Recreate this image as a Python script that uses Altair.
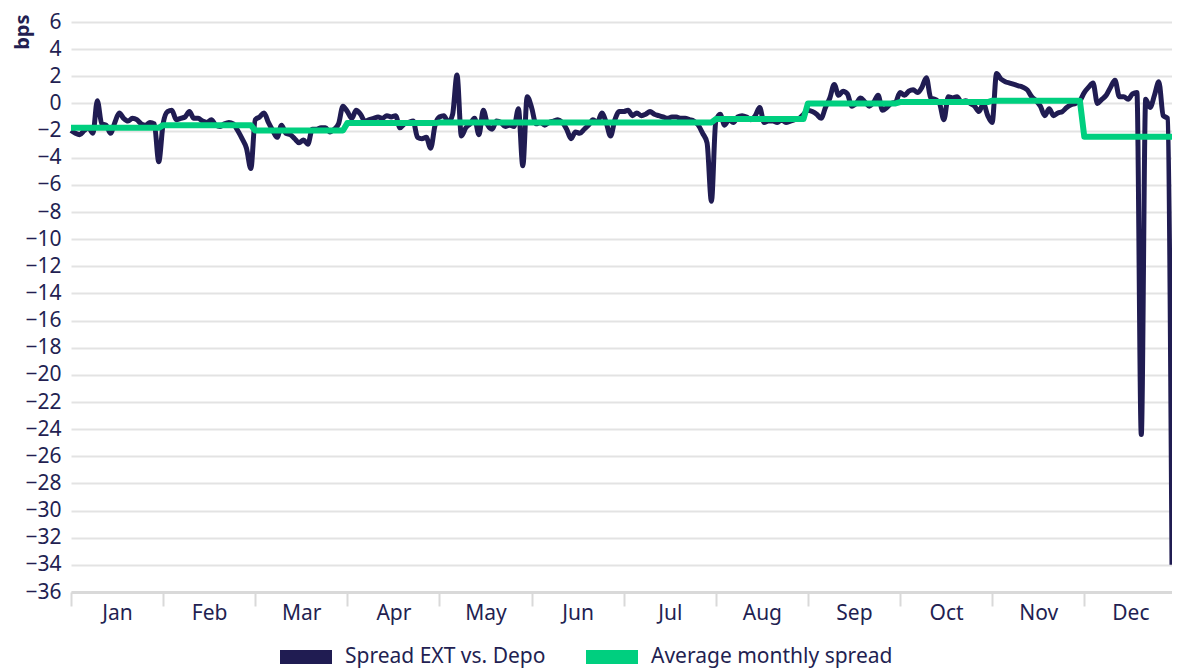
import altair as alt
import pandas as pd

months = ["Jan", "Feb", "Mar", "Apr", "May", "Jun", "Jul", "Aug", "Sep", "Oct", "Nov", "Dec"]

spread_jan = [-2.0, -2.2, -2.3, -2.0, -1.8, -2.2, 0.2, -1.5, -1.6, -2.2, -1.4, -0.7, -1.1, -1.3, -1.1, -1.2, -1.5, -1.6, -1.4, -1.5, -4.3]
spread_feb = [-1.5, -0.6, -0.5, -1.2, -1.1, -1.0, -0.6, -1.1, -1.1, -1.3, -1.4, -1.2, -1.6, -1.7, -1.5, -1.4, -1.5, -2.0, -2.6, -3.3, -4.8]
spread_mar = [-1.2, -1.0, -0.7, -1.4, -2.0, -2.5, -1.6, -2.2, -2.3, -2.6, -2.9, -2.7, -3.0, -1.9, -1.9, -1.8, -1.8, -2.1, -1.9, -1.5, -0.2]
spread_apr = [-0.6, -1.1, -0.5, -0.8, -1.3, -1.2, -1.1, -1.0, -1.1, -0.9, -1.0, -0.9, -1.8, -1.5, -1.4, -1.3, -2.5, -2.6, -2.5, -3.3, -1.6]
spread_may = [-1.0, -0.9, -1.4, -0.8, 2.1, -2.4, -1.8, -1.5, -1.1, -2.3, -0.5, -1.6, -1.9, -1.3, -1.4, -1.7, -1.6, -1.7, -0.4, -4.6, 0.5]
spread_jun = [-0.3, -1.5, -1.4, -1.6, -1.4, -1.3, -1.2, -1.4, -1.9, -2.6, -2.1, -2.2, -1.9, -1.6, -1.2, -1.4, -0.7, -1.4, -2.4, -1.2, -0.6]
spread_jul = [-0.6, -0.5, -0.9, -0.7, -0.9, -0.8, -0.6, -0.8, -0.9, -1.0, -1.1, -1.0, -1.0, -1.1, -1.1, -1.2, -1.3, -1.6, -2.2, -2.9, -7.2]
spread_aug = [-1.3, -0.8, -1.6, -1.2, -1.4, -1.0, -0.9, -1.0, -1.2, -0.9, -0.3, -1.4, -1.3, -1.3, -1.4, -1.2, -1.4, -1.3, -1.2, -1.1, -0.8]
spread_sep = [-0.5, -0.6, -0.8, -1.1, -0.3, 0.4, 1.4, 0.6, 0.9, 0.7, -0.2, 0.0, 0.4, 0.1, -0.2, 0.1, 0.6, -0.5, -0.3, 0.0, 0.1]
spread_oct = [0.8, 0.6, 0.9, 1.0, 0.8, 1.2, 1.9, 0.4, 0.3, 0.0, -1.2, 0.5, 0.4, 0.5, 0.1, 0.2, 0.0, -0.2, -0.6, 0.0, -0.9]
spread_nov = [-1.4, 2.2, 1.8, 1.6, 1.5, 1.4, 1.3, 1.2, 1.0, 0.5, 0.2, -0.2, -0.9, -0.4, -0.9, -0.7, -0.6, -0.3, -0.1, 0.0, 0.2]
spread_dec = [0.8, 1.2, 1.5, 0.0, 0.3, 0.6, 1.2, 1.7, 0.5, 0.5, 0.3, 0.7, 0.8, -24.4, 0.3, -0.3, 0.6, 1.6, -0.9, -1.1, -34.0]

avg_monthly = [-1.8, -1.6, -2.0, -1.45, -1.4, -1.4, -1.4, -1.15, 0.0, 0.1, 0.2, -2.45]

series_names = ["Spread EXT vs. Depo", "Average monthly spread"]
series_colors = ["#201C52", "#00CF7F"]
text_color = "#231F52"
font = "Noto Sans"
font_size = 21
days_per_month = 21

spread_by_month = [spread_jan, spread_feb, spread_mar, spread_apr, spread_may, spread_jun,
                   spread_jul, spread_aug, spread_sep, spread_oct, spread_nov, spread_dec]

rows = []
for m, vals in enumerate(spread_by_month):
    for k, v in enumerate(vals):
        t = m + k / days_per_month
        rows.append({"t": t, "value": v, "series": series_names[0]})
        rows.append({"t": t, "value": avg_monthly[m], "series": series_names[1]})
df = pd.DataFrame(rows)

x_max = 11 + (len(spread_dec) - 1) / days_per_month

tick_vals = []
for m in range(12):
    tick_vals.append(m)
    tick_vals.append(m + 0.5)

month_js = "[" + ",".join("'" + s + "'" for s in months) + "]"
label_expr = f"(datum.value % 1) > 0.25 ? {month_js}[floor(datum.value)] : ''"

color_scale = alt.Scale(domain=series_names, range=series_colors)

x_enc = alt.X(
    "t:Q",
    scale=alt.Scale(domain=[0, x_max], nice=False, zero=False),
    axis=alt.Axis(
        values=tick_vals,
        labelExpr=label_expr,
        title=None,
        grid=False,
        domainColor="#D9D9D9",
        domainWidth=3,
        tickColor="#D9D9D9",
        tickWidth=2,
        tickSize=14,
        tickOpacity={"condition": {"test": "(datum.value % 1) > 0.25", "value": 0}, "value": 1},
        labelFont=font,
        labelFontSize=font_size,
        labelColor=text_color,
        labelPadding=-4,
        labelFlush=False,
        labelOverlap=False,
    ),
)

y_enc = alt.Y(
    "value:Q",
    scale=alt.Scale(domain=[-36, 6], nice=False, zero=False),
    axis=alt.Axis(
        values=list(range(-36, 7, 2)),
        title="bps",
        titleFont=font,
        titleFontSize=20,
        titleFontWeight="bold",
        titleColor=text_color,
        titleAngle=270,
        titleAnchor="end",
        titleAlign="right",
        titleBaseline="middle",
        titleX=-49,
        titleY=-8,
        domain=False,
        ticks=False,
        grid=True,
        gridColor="#E3E3E3",
        gridWidth=2,
        labelFont=font,
        labelFontSize=font_size,
        labelColor=text_color,
        labelPadding=10,
    ),
)

legend = alt.Legend(
    title=None,
    orient="none",
    direction="horizontal",
    legendX=202,
    legendY=602,
    symbolType="M-1,0H1",
    symbolSize=2704,
    symbolStrokeWidth=14,
    labelFont=font,
    labelFontSize=font_size,
    labelColor=text_color,
    labelOffset=6,
    labelLimit=400,
    columnPadding=12,
    padding=0,
)

base = alt.Chart(df)

spread_line = base.transform_filter(
    alt.datum.series == series_names[0]
).mark_line(strokeWidth=5, interpolate="monotone", strokeJoin="round").encode(
    x=x_enc,
    y=y_enc,
    color=alt.Color("series:N", scale=color_scale, legend=legend, sort=series_names),
)

avg_line = base.transform_filter(
    alt.datum.series == series_names[1]
).mark_line(strokeWidth=6, strokeJoin="round").encode(
    x=x_enc,
    y=y_enc,
    color=alt.Color("series:N", scale=color_scale, legend=legend, sort=series_names),
)

chart = alt.layer(spread_line, avg_line).properties(
    width=1101,
    height=570,
    autosize=alt.AutoSizeParams(type="none"),
    padding={"left": 63, "top": 14, "right": 0, "bottom": 76},
    background="white",
).configure_view(stroke=None)

chart.save("out.html", embed_options={"renderer": "svg", "actions": False})
